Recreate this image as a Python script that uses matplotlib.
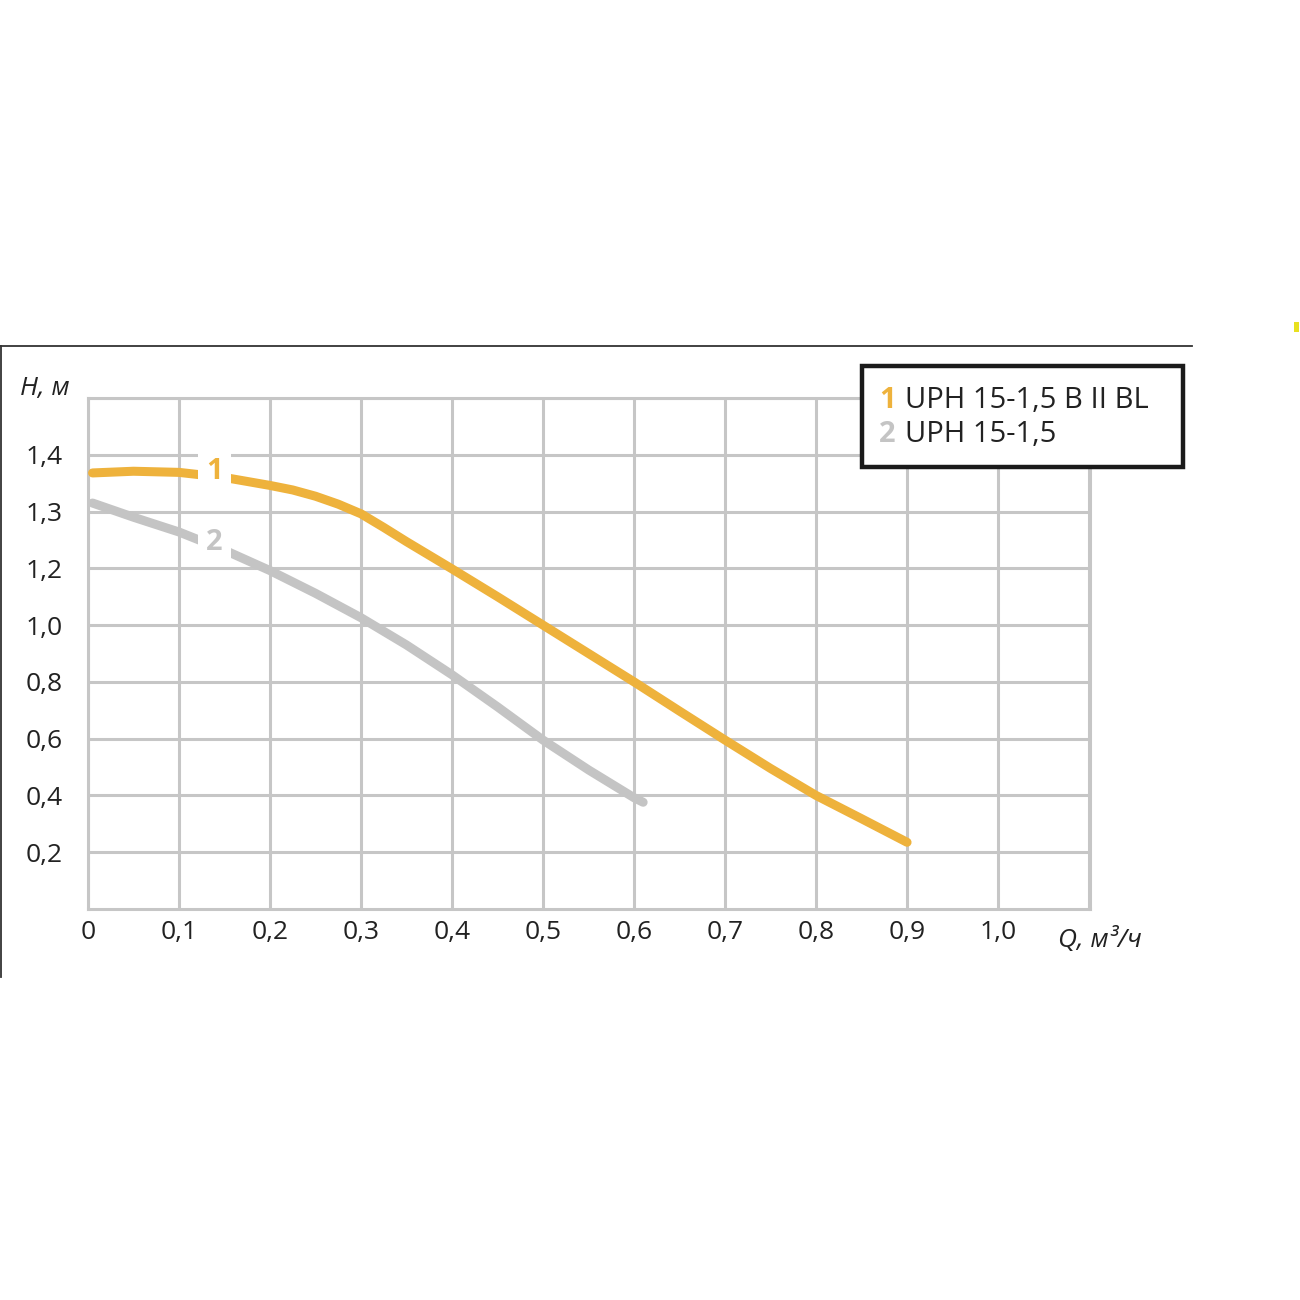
import matplotlib.pyplot as plt
import numpy as np
from matplotlib.patches import Rectangle
from matplotlib.lines import Line2D

plt.rcParams['font.family'] = ['Open Sans', 'DejaVu Sans']

# head levels drawn on equally spaced grid rows (the chart's own uneven scale)
h_levels = [0.0, 0.2, 0.4, 0.6, 0.8, 1.0, 1.2, 1.3, 1.4, 1.5]
h_ticks = [0.2, 0.4, 0.6, 0.8, 1.0, 1.2, 1.3, 1.4]
h_labels = ["0,2", "0,4", "0,6", "0,8", "1,0", "1,2", "1,3", "1,4"]
q_ticks = [0, 0.1, 0.2, 0.3, 0.4, 0.5, 0.6, 0.7, 0.8, 0.9, 1.0]
q_labels = ["0", "0,1", "0,2", "0,3", "0,4", "0,5", "0,6", "0,7", "0,8", "0,9", "1,0"]

# curve 1: UPH 15-1,5 B II BL
q1 = [0.005, 0.05, 0.1, 0.15, 0.2, 0.225, 0.25, 0.275, 0.3, 0.325, 0.35, 0.4, 0.45,
      0.5, 0.55, 0.6, 0.65, 0.7, 0.75, 0.8, 0.85, 0.9]
h1 = [1.368, 1.371, 1.369, 1.360, 1.346, 1.338, 1.327, 1.313, 1.296, 1.272, 1.247,
      1.198, 1.100, 1.000, 0.900, 0.800, 0.697, 0.595, 0.495, 0.400, 0.318, 0.235]
# curve 2: UPH 15-1,5
q2 = [0.005, 0.05, 0.1, 0.15, 0.2, 0.25, 0.3, 0.35, 0.4, 0.45, 0.5, 0.55, 0.6, 0.61]
h2 = [1.315, 1.290, 1.264, 1.232, 1.192, 1.112, 1.026, 0.930, 0.825, 0.712, 0.595,
      0.490, 0.392, 0.376]

ORANGE = "#eeb23c"
GREY = "#c4c4c4"
GRID = "#c6c6c6"

rows = np.arange(len(h_levels), dtype=float)


def fwd(v):
    return np.interp(v, h_levels, rows)


def inv(v):
    return np.interp(v, rows, h_levels)


fig = plt.figure(figsize=(13, 13), dpi=100, facecolor="white")
ax = fig.add_axes([88 / 1300, 1 - 909 / 1300, 1002 / 1300, 511 / 1300])
ax.set_yscale("function", functions=(fwd, inv))
ax.set_xlim(0, 1.101)
ax.set_ylim(0, 1.5)

ax.set_xticks(q_ticks + [1.1])
ax.set_xticklabels(q_labels + [""])
ax.set_yticks(h_ticks + [1.5])
ax.set_yticklabels(h_labels + [""])
ax.yaxis.set_minor_locator(plt.NullLocator())
ax.grid(True, color=GRID, linewidth=2.2, zorder=0)
ax.set_axisbelow(True)
for s in ax.spines.values():
    s.set_color(GRID)
    s.set_linewidth(2.2)
ax.tick_params(length=0, labelsize=19, colors="#222222")
ax.tick_params(axis="y", pad=18)
ax.tick_params(axis="x", pad=8)

ax.plot(q1, h1, color=ORANGE, linewidth=6.5, solid_capstyle="round",
        solid_joinstyle="round", zorder=3)
ax.plot(q2, h2, color=GREY, linewidth=6.5, solid_capstyle="round",
        solid_joinstyle="round", zorder=2)

ax.text(0.139, 1.37, "1", color=ORANGE, fontsize=21, fontweight="bold",
        ha="center", va="center", zorder=5,
        bbox=dict(facecolor="white", edgecolor="none", pad=6))
ax.text(0.139, 1.245, "2", color=GREY, fontsize=21, fontweight="bold",
        ha="center", va="center", zorder=5,
        bbox=dict(facecolor="white", edgecolor="none", pad=6))

# axis titles
fig.text(45 / 1300, 1 - 388 / 1300, "H, м", fontsize=19, style="italic",
         ha="center", va="center", color="#222222")
fig.text(1058 / 1300, 1 - 940 / 1300, "Q, м³/ч", fontsize=19, style="italic",
         ha="left", va="center", color="#222222")

# legend box
fig.patches.append(Rectangle((862 / 1300, 1 - 467 / 1300), 321 / 1300, 101 / 1300,
                             transform=fig.transFigure, facecolor="white",
                             edgecolor="#1a1a1a", linewidth=3.2, zorder=10))
fig.text(879 / 1300, 1 - 400 / 1300, "1", color=ORANGE, fontsize=21,
         fontweight="bold", va="center", zorder=11)
fig.text(905 / 1300, 1 - 400 / 1300, "UPH 15-1,5 B II BL", color="#222222",
         fontsize=21, va="center", zorder=11)
fig.text(879 / 1300, 1 - 435 / 1300, "2", color=GREY, fontsize=21,
         fontweight="bold", va="center", zorder=11)
fig.text(905 / 1300, 1 - 435 / 1300, "UPH 15-1,5", color="#222222",
         fontsize=21, va="center", zorder=11)

# outer frame lines and small mark
fig.lines.append(Line2D([0, 1192 / 1300], [1 - 346 / 1300, 1 - 346 / 1300],
                        transform=fig.transFigure, color="#333333", linewidth=1.3))
fig.lines.append(Line2D([1 / 1300, 1 / 1300], [1 - 346 / 1300, 1 - 977 / 1300],
                        transform=fig.transFigure, color="#333333", linewidth=1.3))
fig.patches.append(Rectangle((1294 / 1300, 1 - 332 / 1300), 5 / 1300, 10 / 1300,
                             transform=fig.transFigure, facecolor="#e8e020",
                             edgecolor="none"))

fig.savefig("out.png", dpi=100, facecolor="white")
